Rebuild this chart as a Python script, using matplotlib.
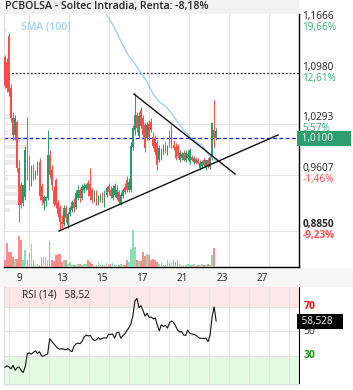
import numpy as np
import matplotlib.pyplot as plt
from matplotlib.patches import Rectangle

plt.rcParams['font.family'] = ['Open Sans', 'DejaVu Sans']

# Velas horarias (apertura, maximo, minimo, cierre)
opens = [1.120, 1.113, 1.148, 1.078, 1.037, 1.014, 1.032, 0.970, 0.947, 0.922,
         0.931, 0.981, 0.981, 0.949, 0.970, 0.959, 0.964, 0.978, 0.945, 0.922,
         0.925, 0.929, 0.987, 0.967, 0.940, 0.954, 0.922, 0.916, 0.897, 0.894,
         0.916, 0.893, 0.908, 0.913, 0.924, 0.917, 0.929, 0.940, 0.929, 0.940,
         0.943, 0.949, 0.948, 0.940, 0.927, 0.937, 0.922, 0.927, 0.933, 0.920,
         0.933, 0.945, 0.940, 0.929, 0.933, 0.929, 0.937, 0.922, 0.932, 0.944,
         0.954, 0.940, 0.940, 0.998, 1.021, 1.041, 1.013, 1.048, 1.037, 1.028,
         1.010, 1.029, 1.032, 1.012, 1.010, 1.003, 0.981, 0.985, 0.990, 1.001,
         0.991, 1.018, 0.999, 1.001, 0.998, 0.999, 0.981, 0.983, 0.990, 0.981,
         0.983, 0.978, 0.985, 0.978, 0.982, 0.981, 0.970, 0.972, 0.981, 0.970,
         0.981, 0.971, 0.985, 1.021, 1.010]
highs = [1.122, 1.118, 1.152, 1.083, 1.045, 1.041, 1.035, 0.981, 0.951, 0.927,
         0.999, 1.039, 0.987, 0.974, 0.975, 0.967, 0.979, 0.983, 0.949, 0.933,
         0.932, 1.021, 0.994, 0.974, 0.945, 0.956, 0.927, 0.920, 0.906, 0.920,
         0.920, 0.910, 0.918, 0.927, 0.929, 0.940, 0.947, 0.943, 0.948, 0.949,
         0.949, 0.954, 0.970, 0.943, 0.940, 0.940, 0.933, 0.936, 0.937, 0.940,
         0.945, 0.949, 0.945, 0.947, 0.949, 0.947, 0.940, 0.937, 0.943, 0.949,
         0.959, 0.956, 1.005, 1.028, 1.071, 1.045, 1.045, 1.052, 1.041, 1.032,
         1.032, 1.035, 1.037, 1.018, 1.014, 1.008, 1.001, 0.997, 1.002, 1.005,
         1.001, 1.021, 1.028, 1.008, 1.003, 1.002, 0.994, 0.991, 0.994, 0.994,
         0.994, 0.997, 0.987, 0.986, 0.985, 0.983, 0.981, 0.981, 0.983, 0.978,
         0.983, 0.987, 1.032, 1.062, 1.024]
lows = [1.078, 1.072, 1.067, 1.032, 1.008, 1.008, 0.964, 0.897, 0.916, 0.918,
        0.927, 0.954, 0.940, 0.945, 0.954, 0.955, 0.960, 0.927, 0.920, 0.913,
        0.918, 0.927, 0.956, 0.940, 0.918, 0.916, 0.904, 0.887, 0.886, 0.891,
        0.897, 0.889, 0.905, 0.910, 0.910, 0.914, 0.927, 0.924, 0.927, 0.936,
        0.940, 0.932, 0.927, 0.922, 0.924, 0.920, 0.920, 0.924, 0.922, 0.917,
        0.931, 0.933, 0.929, 0.927, 0.931, 0.927, 0.921, 0.920, 0.929, 0.935,
        0.937, 0.937, 0.937, 0.994, 1.014, 1.018, 1.010, 1.024, 1.010, 0.991,
        1.008, 1.008, 1.018, 0.997, 0.987, 0.967, 0.978, 0.981, 0.987, 0.990,
        0.987, 0.998, 0.997, 0.994, 0.981, 0.983, 0.978, 0.981, 0.979, 0.978,
        0.981, 0.975, 0.979, 0.975, 0.975, 0.975, 0.967, 0.970, 0.972, 0.967,
        0.970, 0.968, 0.981, 0.997, 1.008]
closes = [1.080, 1.078, 1.072, 1.037, 1.014, 1.037, 0.970, 0.920, 0.920, 0.947,
          0.994, 0.958, 0.947, 0.970, 0.959, 0.964, 0.975, 0.932, 0.927, 0.931,
          0.931, 0.987, 0.960, 0.947, 0.921, 0.920, 0.908, 0.897, 0.894, 0.916,
          0.902, 0.908, 0.916, 0.924, 0.916, 0.936, 0.940, 0.929, 0.944, 0.945,
          0.947, 0.940, 0.932, 0.927, 0.937, 0.922, 0.931, 0.933, 0.927, 0.936,
          0.943, 0.937, 0.932, 0.943, 0.945, 0.940, 0.924, 0.933, 0.940, 0.937,
          0.940, 0.951, 0.999, 1.024, 1.041, 1.024, 1.040, 1.026, 1.014, 0.997,
          1.028, 1.012, 1.021, 0.999, 0.991, 0.974, 0.997, 0.994, 0.998, 0.991,
          0.998, 1.001, 1.025, 0.997, 0.983, 0.986, 0.990, 0.989, 0.981, 0.990,
          0.989, 0.994, 0.981, 0.983, 0.976, 0.976, 0.976, 0.978, 0.974, 0.981,
          0.972, 0.985, 1.030, 1.010, 1.020]
volumes = [7, 24, 15, 15, 10, 8, 8, 31, 27, 7,
           17, 7, 14, 23, 7, 3, 3, 2, 10, 10,
           10, 7, 26, 7, 6, 12, 13, 13, 5, 7,
           7, 3, 5, 2, 2, 2, 3, 3, 2, 3,
           3, 7, 5, 3, 2, 2, 5, 2, 2, 2,
           4, 3, 3, 4, 2, 2, 2, 3, 2, 2,
           7, 5, 18, 37, 20, 7, 6, 6, 15, 11,
           13, 12, 7, 8, 7, 5, 3, 5, 2, 2,
           7, 4, 5, 7, 5, 7, 3, 2, 2, 2,
           3, 2, 2, 3, 1, 2, 2, 3, 2, 2,
           3, 2, 12, 19, 1]
rsi = [20.8, 22.0, 21.0, 19.5, 22.3, 18.3, 20.5, 21.0, 18.0, 16.5,
       21.5, 32.0, 32.5, 31.5, 33.0, 34.1, 32.0, 33.5, 30.0, 29.8,
       31.0, 31.5, 44.0, 42.0, 40.0, 38.0, 36.3, 35.5, 36.0, 35.5,
       35.0, 36.0, 34.5, 33.5, 38.0, 39.8, 40.5, 40.0, 42.0, 45.5,
       47.1, 46.3, 46.8, 44.0, 42.5, 43.2, 45.0, 43.5, 44.5, 44.8,
       44.5, 47.8, 47.5, 48.0, 44.5, 49.0, 49.5, 44.5, 46.5, 48.0,
       50.7, 53.0, 56.0, 63.0, 75.0, 77.0, 69.5, 71.0, 67.0, 62.5,
       64.8, 61.5, 61.8, 60.3, 61.0, 55.3, 50.5, 55.5, 54.0, 55.0,
       52.7, 57.0, 58.5, 57.5, 54.5, 51.2, 49.5, 50.0, 47.0, 46.8,
       51.2, 48.5, 48.0, 47.5, 47.0, 45.5, 44.4, 44.4, 44.4, 44.4,
       41.7, 47.0, 62.0, 70.0, 58.5]

# Media movil SMA(100), leida solo donde entra en el grafico
sma_idx = [50, 52, 55, 58, 61, 64, 67, 70, 73, 76,
           79, 82, 85, 88, 91, 94, 97, 100, 103, 104]
sma_vals = [1.1763, 1.1682, 1.1533, 1.1358, 1.1209, 1.1101, 1.0980, 1.0859, 1.0697, 1.0589,
            1.0535, 1.0440, 1.0319, 1.0211, 1.0117, 1.0049, 1.0009, 0.9888, 0.9820, 0.9793]

# Perfil de volumen (barras grises a la izquierda)
profile_prices = [1.156, 1.039, 1.029, 1.018, 1.008, 0.998, 0.986, 0.977,
                  0.966, 0.955, 0.944, 0.935, 0.923, 0.913, 0.893]
profile_widths = [1.5, 4.9, 2.0, 2.0, 14.3, 13.8, 6.9, 6.4,
                  1.5, 2.0, 6.9, 6.4, 6.9, 3.0, 1.0]

# Lineas de tendencia dibujadas (indice de vela, precio)
support_x = [26.6, 134.5]
support_y = [0.8849, 1.0144]
resist_x = [63.5, 113.3]
resist_y = [1.0697, 0.9618]

day_labels = ['9', '13', '15', '17', '21', '23', '27']
day_ticks = [6.9, 28.1, 47.8, 67.5, 87.2, 106.9, 126.6]

price_ticks = [1.1666, 1.0980, 1.0293, 0.9607, 0.8850]
price_labels = ['1,1666', '1,0980', '1,0293', '0,9607', '0,8850']
pct_labels = ['19,66%', '12,61%', '5,57%', '-1,46%', '-9,23%']
last_price = 1.0100
ref_level = 1.0980
rsi_last = 58.528

UP = '#2b9a6a'
DOWN = '#ff4b4b'
VUP = '#86e0b0'
VDOWN = '#ff8c8c'
GRID = '#e4e4e4'

W, H = 353, 390
fig = plt.figure(figsize=(W / 100, H / 100), dpi=100)
fig.patch.set_facecolor('white')

def fx(px):
    return px / W

def fy(py):
    return 1 - py / H

# barra del titulo y franja de fechas
fig.patches.append(Rectangle((0, fy(13)), fx(298), 13 / H, transform=fig.transFigure,
                             color='#f2f2f2', zorder=-1))
fig.patches.append(Rectangle((0, fy(286)), 1, 18 / H, transform=fig.transFigure,
                             color='#f6f6f6', zorder=-1))
fig.text(fx(5), fy(7), 'PCBOLSA - Soltec Intradia, Renta: -8,18%', fontsize=7.6,
         fontweight='semibold', color='#222222', va='center', ha='left')

ax = fig.add_axes([fx(4), fy(267), fx(295), 253 / H])
ax.set_xlim(-0.49, 144.8)
ax.set_ylim(0.8363, 1.1776)

n = len(closes)
x = np.arange(n)
o = np.array(opens)
c = np.array(closes)
up = c >= o
colors = np.where(up, UP, DOWN)

# rejilla
for g in [11.8, 31.5, 51.2, 70.9, 90.6, 110.3, 130.0]:
    ax.axvline(g, color=GRID, lw=0.8, zorder=0)
for t in [1.0293, 0.9607, 0.8850]:
    ax.axhline(t, color=GRID, lw=0.8, zorder=0)

ax.barh(profile_prices, profile_widths, height=0.0062, left=-0.49,
        color='#ececec', zorder=0.5)

ax.vlines(x, lows, highs, colors=colors, lw=0.7, zorder=2)
ax.bar(x, np.maximum(np.abs(c - o), 0.0012), bottom=np.minimum(o, c), width=0.8,
       color=colors, zorder=3)

ax.plot(sma_idx, sma_vals, color='#9fd0f7', lw=1.0, zorder=2.5)
ax.axhline(ref_level, color='#222222', lw=0.9, ls=(0, (1.5, 1.5)), zorder=1)
ax.axhline(last_price, color='#1a1aff', lw=0.9, ls=(0, (3, 2)), zorder=1)
ax.plot(support_x, support_y, color='#111111', lw=1.0, zorder=4)
ax.plot(resist_x, resist_y, color='#111111', lw=1.0, zorder=4)

ax.text(0.058, 0.945, 'SMA (100)', transform=ax.transAxes, fontsize=7.5,
        fontweight='semibold', color='#9fd0f7', va='center')

ax.set_xticks(day_ticks)
ax.set_xticklabels(day_labels)
ax.set_yticks([])
ax.tick_params(axis='x', length=0, pad=4, labelsize=7.2, colors='#222222')
ax.spines['top'].set_visible(False)
ax.spines['left'].set_color('#dddddd')
ax.spines['right'].set_color('black')
ax.spines['bottom'].set_color('black')
ax.spines['right'].set_linewidth(1.0)
ax.spines['bottom'].set_linewidth(1.0)

ytr = ax.get_yaxis_transform()
for t, lab, pct in zip(price_ticks, price_labels, pct_labels):
    bold = t == price_ticks[-1]
    pcol = DOWN if pct.startswith('-') else '#3aae74'
    ax.text(1.012, t + 0.0006, lab, transform=ytr, fontsize=7.2, va='bottom', ha='left',
            color='#222222', fontweight='bold' if bold else 'normal', clip_on=False)
    ax.text(1.012, t + 0.0006, pct, transform=ytr, fontsize=7.2, va='top', ha='left',
            color=pcol, fontweight='bold' if bold else 'normal', clip_on=False)
ax.text(1.0, last_price, ' 1,0100      ', transform=ytr, fontsize=7.2, va='center',
        ha='left', color='white', clip_on=False, zorder=6,
        bbox=dict(boxstyle='square,pad=0.2', fc='#2e9e6e', ec='none'))

# volumen en eje gemelo
axv = ax.twinx()
axv.set_ylim(0, max(volumes) * 253 / 37)
axv.bar(x, volumes, width=0.8, color=np.where(up, VUP, VDOWN), zorder=1)
axv.set_yticks([])
for s in axv.spines.values():
    s.set_visible(False)

# RSI
ar = fig.add_axes([fx(4), fy(384), fx(295), 97 / H])
ar.set_xlim(-0.49, 144.8)
ar.set_ylim(7.1, 86.3)
ar.axhspan(70, 86.3, color='#fde6e6', lw=0, zorder=0)
ar.axhspan(7.1, 30, color='#e2fbe2', lw=0, zorder=0)
for g in np.arange(1.9, 144, 9.85):
    ar.axvline(g, color=GRID, lw=0.8, zorder=0.5)
for lv in [70, 50, 30]:
    ar.axhline(lv, color=GRID, lw=0.8, zorder=0.5)
ar.plot(x, rsi, color='#111111', lw=0.8, zorder=3)
ar.set_xticks([])
ar.set_yticks([])
ar.spines['top'].set_visible(False)
ar.spines['left'].set_color('#dddddd')
ar.spines['bottom'].set_color('#dddddd')
ar.spines['right'].set_color('black')
ar.text(0.061, 0.918, 'RSI (14)   58,52', transform=ar.transAxes, fontsize=7.2,
        color='#222222', va='center')
rtr = ar.get_yaxis_transform()
ar.text(1.015, 70, '70', transform=rtr, fontsize=7.5, fontweight='bold', color='#ee1111',
        va='center', clip_on=False)
ar.text(1.015, 50, '50', transform=rtr, fontsize=7.5, color='#222222', va='center',
        clip_on=False)
ar.text(1.015, 30, '30', transform=rtr, fontsize=7.5, fontweight='bold', color='#119911',
        va='center', clip_on=False)
ar.text(1.0, rsi_last, ' 58,528   ', transform=rtr, fontsize=7.2, va='center', ha='left',
        color='white', clip_on=False, zorder=6,
        bbox=dict(boxstyle='square,pad=0.2', fc='black', ec='none'))

fig.savefig('out.png', dpi=100)
